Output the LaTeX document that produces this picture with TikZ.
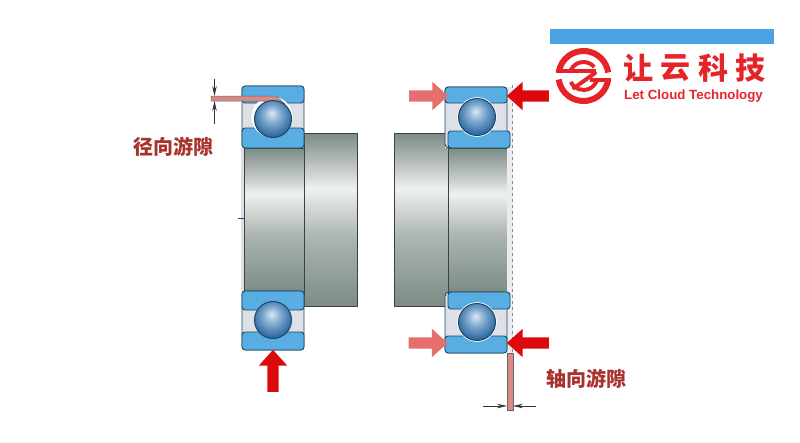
\documentclass[tikz,border=0pt]{standalone}
\usepackage{fontspec}
\setmainfont{Liberation Sans}
\newfontfamily\cjk{Noto Sans CJK SC}
\usetikzlibrary{positioning,shapes.arrows,arrows.meta}
\definecolor{ringblue}{HTML}{58AEE2}
\definecolor{ringline}{HTML}{1B4A63}
\definecolor{cagegray}{HTML}{DDE0E6}
\definecolor{forcered}{HTML}{DC0A0C}
\definecolor{forcepink}{HTML}{E56F6C}
\definecolor{gappink}{HTML}{D98A86}
\definecolor{labelred}{HTML}{A8322E}
\definecolor{brandred}{HTML}{E5242A}
\definecolor{brandblue}{HTML}{4CA3E3}
\definecolor{steeldark}{HTML}{7C8C85}
\definecolor{steelmid}{HTML}{ACB5B2}
\definecolor{steellight}{HTML}{EEF1F0}
\definecolor{ballpale}{HTML}{D9E8F3}
\definecolor{ballmid}{HTML}{7FA9CF}
\definecolor{balldark}{HTML}{2C68A0}
\pgfdeclareverticalshading{steel}{100bp}{color(0bp)=(steeldark); color(25bp)=(steeldark); color(45bp)=(steelmid); color(59bp)=(steellight); color(68bp)=(steelmid); color(75bp)=(steeldark); color(100bp)=(steeldark)}
\pgfdeclareradialshading{bearingball}{\pgfpoint{-2bp}{8bp}}{color(0bp)=(ballpale); color(12bp)=(ballmid); color(27bp)=(balldark); color(50bp)=(balldark)}
\tikzset{%
	ring/.style={
		draw=ringline,
		fill=ringblue,
		line width=0.9pt,
		rounded corners=3pt
	},
	cage/.style={
		draw=ringline,
		fill=cagegray,
		line width=0.9pt,
		rounded corners=4pt
	},
	shaft/.style={
		draw=black!75,
		line width=0.9pt,
		shading=steel
	},
	ball/.style={
		circle,
		draw=ringline,
		line width=1pt,
		minimum size=37pt,
		inner sep=0pt,
		shading=bearingball
	},
	force/.style={
		single arrow,
		fill=forcered,
		text height=11pt,
		text depth=0pt,
		text width=0pt,
		minimum width=28pt,
		single arrow head extend=8.5pt,
		single arrow tip angle=84,
		single arrow head indent=0pt,
		inner sep=0pt
	},
	force-soft/.style={ fill=forcepink },
	gapbar/.style={ fill=gappink, draw=black!60, line width=0.5pt },
	dim/.style={ draw=black!80, line width=0.7pt, -{Stealth[length=10pt,width=4.5pt]} },
	gaplabel/.style={ text=labelred, font=\cjk\bfseries\fontsize{20}{20}\selectfont },
	brandchar/.style={ text=brandred, font=\cjk\bfseries\fontsize{30}{30}\selectfont },
	brandline/.style={ draw=brandred, line width=4pt },
}
\begin{document}
\begin{tikzpicture}[x=1pt, y=-1pt, >=stealth]
\useasboundingbox (0,0) rectangle (800,442);

% shafts
\draw[shaft] (244,148) rectangle (304,292);
\draw[shaft] (304,133) rectangle (357,306);
\draw[shaft] (394,133) rectangle (448,306);
\draw[shaft] (448,148) rectangle (510,292);
\fill[cagegray] (241,148) rectangle (244,292);
\fill[cagegray] (445,133) rectangle (448,148);
\draw[ringline, line width=0.5pt] (238,218) -- (244,218);

% axial clearance band
\fill[cagegray!60] (507,87) rectangle (513,353);
\draw[ringline!60, dashed, line width=0.7pt] (512,85) -- (512,353);

% bearing bodies
\foreach \xa/\ya/\xb/\yb in {242/86/304/148, 242/291/304/350, 445/87/507/148, 445/292/507/353}
	\draw[cage] (\xa,\ya) rectangle (\xb,\yb);

% rings
\foreach \xa/\ya/\xb/\yb in {242/86/304/103, 242/128/304/148, 242/291/304/310, 242/332/304/350, 445/87/507/103, 448/131/510/148, 448/292/510/309, 445/336/507/353}
	\draw[ring] (\xa,\ya) rectangle (\xb,\yb);

% races
\foreach \x/\y/\r in {272/117/20.5, 477/117/19.8, 477/322/19.8}
	\fill[white] (\x,\y) circle (\r);

% radial clearance bar
\fill[gapbar] (211,96) -- (276,96) -- (285,104) -- (262,101) -- (211,101) -- cycle;

% balls
\foreach \x/\y [count=\i] in {273/119, 273/320, 477/117, 477/322}
	\node[ball] (ball-\i) at (\x,\y) {};

% axial clearance bar
\fill[gapbar] (507,353) rectangle (513,410);

% clearance dimensions
\coordinate (radial-top) at (214.5,96);
\coordinate (radial-top-end) at (214.5,79);
\coordinate (radial-bottom) at (214.5,101);
\coordinate (radial-bottom-end) at (214.5,124);
\coordinate (axial-left) at (507,406);
\coordinate (axial-left-end) at (483,406);
\coordinate (axial-right) at (513,406);
\coordinate (axial-right-end) at (536,406);
\draw[dim] (radial-top-end) -- (radial-top);
\draw[dim] (radial-bottom-end) -- (radial-bottom);
\draw[dim] (axial-left-end) -- (axial-left);
\draw[dim] (axial-right-end) -- (axial-right);

% forces
\node[force, minimum height=42pt, rotate=90] (force-radial) at (273,374) {};
\node[force, force-soft, minimum height=39pt] (force-soft-top) at (425.5,96) {};
\node[force, force-soft, minimum height=39pt] (force-soft-bottom) at (425,343) {};
\node[force, minimum height=42pt, rotate=180] (force-top) at (531,96) {};
\node[force, minimum height=42pt, rotate=180] (force-bottom) at (531,343) {};

% gap labels
\node[gaplabel] (label-radial) at (173.5,147) {径向游隙};
\node[gaplabel] (label-axial) at (586.5,379) {轴向游隙};

% brand bar
\fill[brandblue] (550,29) rectangle (774,44);

% brand mark
\draw[brandred, line width=6pt] (558.7,72.5) arc (188:352:25);
\draw[brandred, line width=6pt] (558.7,79.5) arc (172:8:25);
\draw[brandline] (570.8,70.1) arc (205:320:14);
\draw[brandline] (570.8,81.9) arc (155:20:14);
\draw[brandline] (556,71) -- (596,71);
\draw[brandline] (590,80) -- (611,80);
\draw[brandline, line cap=round] (595,73) -- (574,88);

% brand text
\foreach \c [count=\i from 0] in {让,云,科,技}
	\node[brandchar] (brand-\i) at (638.5+\i*37.3,68) {\c};
\node[text=brandred, font=\bfseries\fontsize{13.3}{14}\selectfont, anchor=west, inner sep=0pt] (brand-latin) at (624,96) {Let Cloud Technology};

\end{tikzpicture}
\end{document}
